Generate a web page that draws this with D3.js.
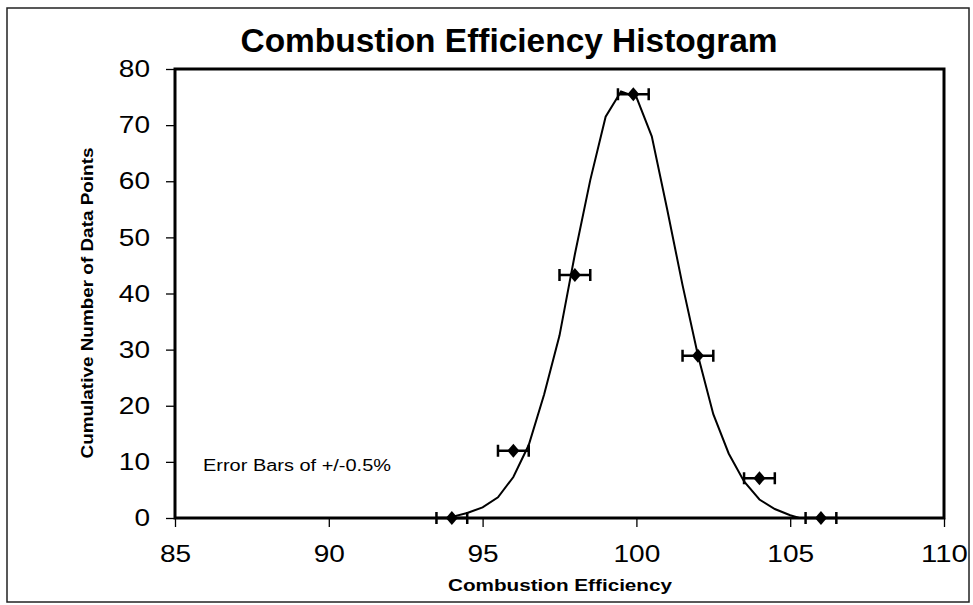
<!DOCTYPE html>
<html>
<head>
<meta charset="utf-8">
<script src="https://cdn.jsdelivr.net/npm/d3@7"></script>
<style>
  body { margin: 0; background: #fff; }
  svg { display: block; }
  text { font-family: "Liberation Sans", Arial, sans-serif; fill: #000; }
</style>
</head>
<body>
<div id="chart"></div>
<script>
// measured points (diamonds) with +/-0.5 error bars
const pointX = [94, 96, 98, 99.9, 102, 104, 106];
const pointY = [0, 12, 43.3, 75.5, 28.9, 7.1, 0];
const errX = 0.5;

// fitted curve
const curveX = [94.0, 94.5, 95.0, 95.5, 96.0, 96.5, 97.0, 97.5, 98.0, 98.5, 99.0, 99.5, 100.0,
                100.5, 101.0, 101.5, 102.0, 102.5, 103.0, 103.5, 104.0, 104.5, 105.0, 105.3];
const curveY = [0.2, 0.9, 1.9, 3.7, 7.3, 13, 22, 32.5, 47, 60.2, 71.5, 76, 75,
                68, 55, 41.5, 29, 18.5, 11.5, 6.5, 3.3, 1.6, 0.5, 0];

const xTicks = [85, 90, 95, 100, 105, 110];
const yTicks = [0, 10, 20, 30, 40, 50, 60, 70, 80];

const width = 973, height = 605;
const margin = { left: 175, right: 29, top: 69, bottom: 87 };

const svg = d3.select('#chart').append('svg')
    .attr('width', width)
    .attr('height', height);

// outer chart frame
svg.append('rect')
    .attr('x', 7).attr('y', 8)
    .attr('width', 962).attr('height', 594)
    .attr('fill', 'none')
    .attr('stroke', '#222')
    .attr('stroke-width', 1.5);

const x = d3.scaleLinear().domain([85, 110]).range([margin.left, width - margin.right]);
const y = d3.scaleLinear().domain([0, 80]).range([height - margin.bottom, margin.top]);

// title
svg.append('text')
    .attr('x', 509).attr('y', 52)
    .attr('text-anchor', 'middle')
    .attr('font-size', 33)
    .attr('font-weight', 'bold')
    .attr('textLength', 537)
    .attr('lengthAdjust', 'spacingAndGlyphs')
    .text('Combustion Efficiency Histogram');

// axes
const xAxis = svg.append('g')
    .attr('transform', 'translate(0,' + y(0) + ')')
    .call(d3.axisBottom(x).tickValues(xTicks).tickSize(9).tickPadding(18));

const yAxis = svg.append('g')
    .attr('transform', 'translate(' + x(85) + ',0)')
    .call(d3.axisLeft(y).tickValues(yTicks).tickSize(9).tickPadding(16));

[xAxis, yAxis].forEach(g => {
    g.select('.domain').remove();
    g.selectAll('line').attr('stroke', '#000').attr('stroke-width', 1.3);
    g.selectAll('text')
        .attr('font-size', 24)
        .attr('font-family', '"Liberation Sans", Arial, sans-serif')
        .attr('fill', '#000')
        .attr('textLength', d => String(d).length * 15.6)
        .attr('lengthAdjust', 'spacingAndGlyphs');
});

// plot box
svg.append('rect')
    .attr('x', x(85)).attr('y', y(80))
    .attr('width', x(110) - x(85))
    .attr('height', y(0) - y(80))
    .attr('fill', 'none')
    .attr('stroke', '#000')
    .attr('stroke-width', 3);

// axis titles
svg.append('text')
    .attr('x', 560).attr('y', 591)
    .attr('text-anchor', 'middle')
    .attr('font-size', 17)
    .attr('font-weight', 'bold')
    .attr('textLength', 224)
    .attr('lengthAdjust', 'spacingAndGlyphs')
    .text('Combustion Efficiency');

svg.append('text')
    .attr('transform', 'translate(93,303) rotate(-90)')
    .attr('text-anchor', 'middle')
    .attr('font-size', 17)
    .attr('font-weight', 'bold')
    .attr('textLength', 311)
    .attr('lengthAdjust', 'spacingAndGlyphs')
    .text('Cumulative Number of Data Points');

// annotation
svg.append('text')
    .attr('x', 203).attr('y', 471)
    .attr('font-size', 16)
    .attr('textLength', 188)
    .attr('lengthAdjust', 'spacingAndGlyphs')
    .text('Error Bars of +/-0.5%');

// curve
const lineFunc = d3.line()
    .x((d, i) => x(curveX[i]))
    .y(d => y(d));

svg.append('path')
    .attr('d', lineFunc(curveY))
    .attr('fill', 'none')
    .attr('stroke', '#000')
    .attr('stroke-width', 2);

// points with error bars
const pts = pointX.map((v, i) => ({ x: v, y: pointY[i] }));
const g = svg.append('g');
const cap = 6;

g.selectAll('.err')
    .data(pts).enter()
    .append('path')
    .attr('d', d => {
        const x1 = x(d.x - errX), x2 = x(d.x + errX), yy = y(d.y);
        return 'M' + x1 + ',' + yy + 'H' + x2 +
            'M' + x1 + ',' + (yy - cap) + 'V' + (yy + cap) +
            'M' + x2 + ',' + (yy - cap) + 'V' + (yy + cap);
    })
    .attr('fill', 'none')
    .attr('stroke', '#000')
    .attr('stroke-width', 2.5);

g.selectAll('.pt')
    .data(pts).enter()
    .append('path')
    .attr('d', d => {
        const cx = x(d.x), cy = y(d.y);
        return 'M' + cx + ',' + (cy - 7) + 'L' + (cx + 6) + ',' + cy +
            'L' + cx + ',' + (cy + 7) + 'L' + (cx - 6) + ',' + cy + 'Z';
    })
    .attr('fill', '#000');
</script>
</body>
</html>
